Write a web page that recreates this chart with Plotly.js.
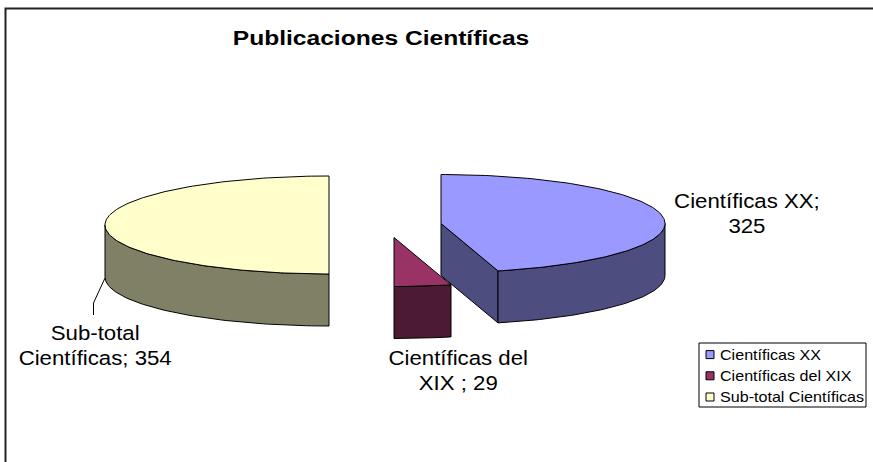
<!DOCTYPE html>
<html><head><meta charset="utf-8">
<script src="https://cdn.plot.ly/plotly-3.0.1.min.js"></script>
<style>html,body{margin:0;padding:0;background:#fff;overflow:hidden}</style></head>
<body><div id="chart" style="width:873px;height:462px"></div>
<script>
const categories = ['Científicas XX', 'Científicas del XIX', 'Sub-total Científicas'];
const values = [325, 29, 354];
const sliceLabels = ['Científicas XX;<br>325', 'Científicas del<br>XIX ; 29', 'Sub-total<br>Científicas; 354'];
const topColors = ['#9999FF', '#993366', '#FFFFCC'];
const wallColors = ['#4D4D80', '#4D1A33', '#808066'];

// Pie projection on an axis system the size of the canvas
const RX = 224, RY = 49, DEPTH = 52;
const apexes = [[441, 223.5], [394, 237.5], [329, 225]];
const total = values.reduce((a, b) => a + b, 0);
let run = 0;
const spans = values.map(v => { const s = [run, run + v]; run += v; return s.map(u => u / total * 2 * Math.PI); });
const pt = (c, a, d) => [c[0] + RX * Math.sin(a), c[1] - RY * Math.cos(a) + (d || 0)];
function arc(c, a0, a1, d) {
  const n = Math.max(2, Math.ceil(Math.abs(a1 - a0) / 0.02)), out = [];
  for (let i = 0; i <= n; i++) out.push(pt(c, a0 + (a1 - a0) * i / n, d));
  return out;
}
function poly(points, color) {
  return {
    type: 'scatter', mode: 'lines', x: points.map(p => p[0]), y: points.map(p => p[1]),
    fill: 'toself', fillcolor: color, line: {color: '#000', width: 1}, hoverinfo: 'skip', showlegend: false
  };
}
const traces = [];
const QUARTER = Math.PI / 2;
function addSlice(i) {
  const c = apexes[i], [a0, a1] = spans[i];
  const d0 = [c[0], c[1]];
  if (i === 0) {
    const e = pt(c, a1), eb = pt(c, a1, DEPTH);
    traces.push(poly([d0, e, eb, [c[0], c[1] + DEPTH], d0], wallColors[i]));
  }
  const w0 = Math.max(a0, QUARTER), w1 = Math.min(a1, 3 * QUARTER);
  const wall = arc(c, w0, w1, 0).concat(arc(c, w1, w0, DEPTH));
  wall.push(wall[0]);
  traces.push(poly(wall, wallColors[i]));
  const top = [d0].concat(arc(c, a0, a1, 0)); top.push(d0);
  traces.push(poly(top, topColors[i]));
}
addSlice(0); addSlice(2); addSlice(1);
categories.forEach((name, i) => traces.push({
  type: 'scatter', mode: 'markers', x: [null], y: [null], name,
  marker: {symbol: 'square', size: 8, color: topColors[i], line: {color: '#000', width: 1}}, hoverinfo: 'skip'
}));
traces.push({type: 'scatter', mode: 'lines', x: [105, 93.5, 93.5], y: [278, 303, 315],
  line: {color: '#000', width: 1}, hoverinfo: 'skip', showlegend: false});

const FONT = 'Liberation Sans, Arial, sans-serif';
const labelPos = [[747, 213], [458, 370.5], [95, 345.5]];
const layout = {
  width: 873, height: 462, margin: {l: 0, r: 0, t: 0, b: 0},
  paper_bgcolor: '#fff', plot_bgcolor: '#fff', showlegend: true,
  title: {text: '<b>Publicaciones Científicas</b>', x: 381 / 873, xanchor: 'center', xref: 'paper',
    y: 1 - 38.5 / 462, yanchor: 'middle', yref: 'paper', font: {family: FONT, size: 20, color: '#000'}},
  xaxis: {range: [0, 873], visible: false, fixedrange: true},
  yaxis: {range: [462, 0], visible: false, fixedrange: true},
  legend: {x: 699 / 873, y: 1 - 339 / 462, xanchor: 'left', yanchor: 'top', bgcolor: 'rgba(0,0,0,0)',
    borderwidth: 0, traceorder: 'normal', indentation: -15,
    font: {family: FONT, size: 14, color: '#000'}, itemsizing: 'trace'},
  shapes: [
    {type: 'rect', xref: 'x', yref: 'y', x0: 5.5, x1: 900, y0: 8.5, y1: 500, line: {color: '#222', width: 2}, layer: 'below'},
    {type: 'rect', xref: 'x', yref: 'y', x0: 699, x1: 866, y0: 343, y1: 407, fillcolor: '#fff', line: {color: '#000', width: 1}, layer: 'above'}
  ],
  annotations: sliceLabels.map((t, i) => ({
    text: t, x: labelPos[i][0], y: labelPos[i][1], xref: 'x', yref: 'y', showarrow: false,
    align: 'center', font: {family: FONT, size: 19.5, color: '#000'}
  }))
};
// The reference's lettering is wider than any installed face: widen the real text elements.
function widen(sel, k, anchorLeft, dx) {
  document.querySelectorAll(sel).forEach(el => {
    const b = el.getBBox();
    const cx = anchorLeft ? b.x : b.x + b.width / 2;
    const prev = el.getAttribute('transform') || '';
    el.setAttribute('transform', `translate(${dx || 0},0) ${prev} translate(${cx},0) scale(${k},1) translate(${-cx},0)`);
  });
}
Plotly.newPlot('chart', traces, layout, {displayModeBar: false, staticPlot: true}).then(() => {
  widen('.annotation-text', 1.14, false);
  widen('.gtitle', 1.23, false);
  widen('.legendtext', 1.15, true, -4);
  document.querySelectorAll('.legendpoints').forEach(el => {
    el.setAttribute('transform', `translate(6,0) ${el.getAttribute('transform') || ''}`);
  });
  document.querySelectorAll('.legend .scrollbox').forEach(el => el.removeAttribute('clip-path'));
  document.querySelectorAll('.legend').forEach(el => el.removeAttribute('clip-path'));
});
</script></body></html>
